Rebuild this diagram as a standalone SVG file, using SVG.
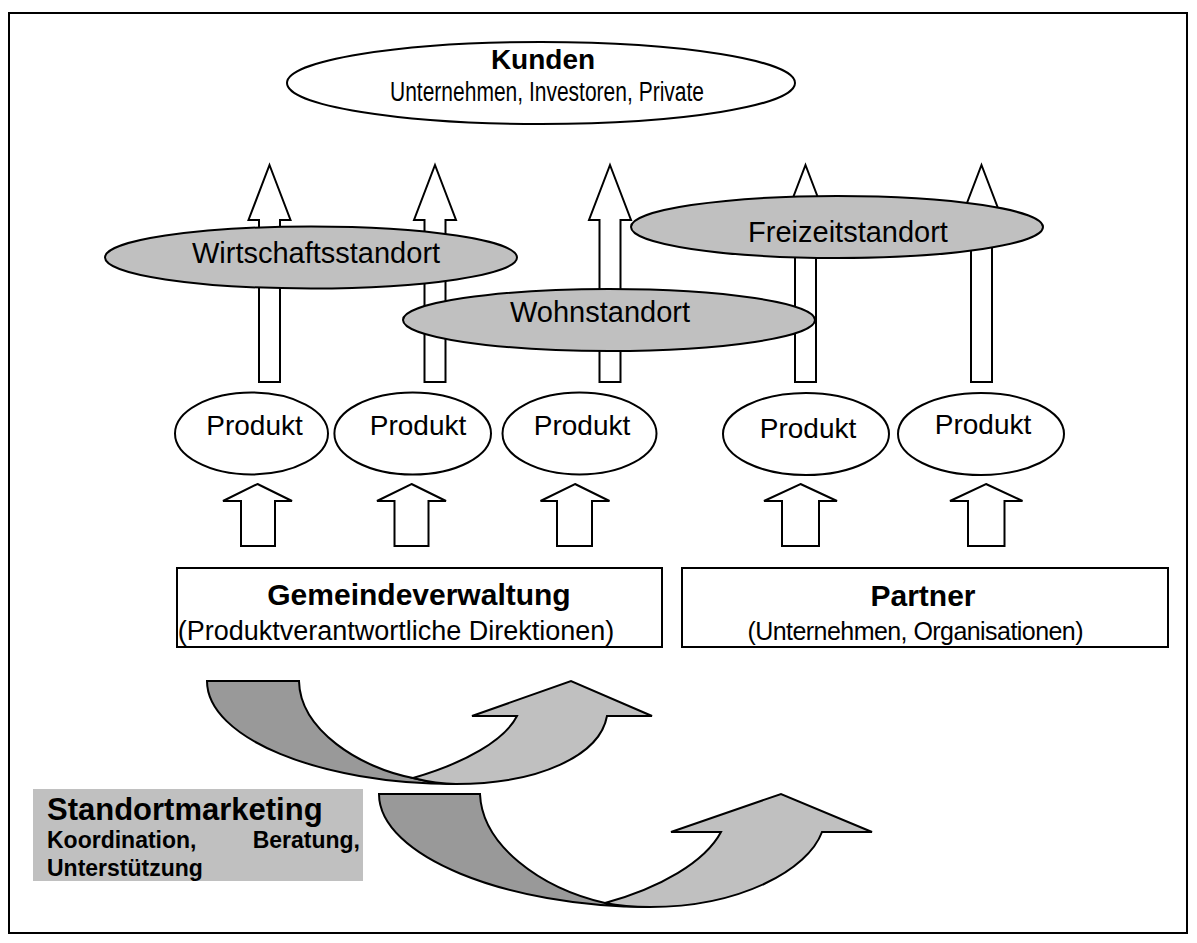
<svg xmlns="http://www.w3.org/2000/svg" width="1197" height="943" viewBox="0 0 1197 943">
<style>
.ln{stroke:#000;stroke-width:2;stroke-linejoin:miter}
.wh{fill:#fff}
.gr{fill:#c0c0c0}
.dk{fill:#999999}
.t{font-family:"Liberation Sans",Arial,sans-serif;fill:#000}
.b{font-weight:bold}
</style>
<rect x="0" y="0" width="1197" height="943" fill="#fff"/>
<rect x="9" y="13" width="1178" height="920" fill="none" stroke="#000" stroke-width="2"/>

<g id="connectors">
  <path class="ln wh" d="M269.5,165 L290.5,220 L280,220 L280,382 L259,382 L259,220 L248.5,220 Z"/>
  <path class="ln wh" d="M435,165 L456,220 L445.5,220 L445.5,382 L424.5,382 L424.5,220 L414,220 Z"/>
  <path class="ln wh" d="M610,165 L631,220 L620.5,220 L620.5,382 L599.5,382 L599.5,220 L589,220 Z"/>
  <path class="ln wh" d="M805.5,165 L826.5,220 L816,220 L816,382 L795,382 L795,220 L784.5,220 Z"/>
  <path class="ln wh" d="M981.5,165 L1002.5,220 L992,220 L992,382 L971,382 L971,220 L960.5,220 Z"/>

  <path class="ln wh" d="M257.5,484 L292,501 L275,501 L275,546 L241,546 L241,501 L223,501 Z"/>
  <path class="ln wh" d="M411.5,484 L446,501 L428.5,501 L428.5,546 L394.5,546 L394.5,501 L377,501 Z"/>
  <path class="ln wh" d="M575,484 L609.5,501 L592,501 L592,546 L557,546 L557,501 L540.5,501 Z"/>
  <path class="ln wh" d="M800.5,484 L837,501 L819,501 L819,546 L782,546 L782,501 L764,501 Z"/>
  <path class="ln wh" d="M986,484 L1022.5,501 L1004.5,501 L1004.5,546 L968,546 L968,501 L950,501 Z"/>
</g>

<g id="kunden">
  <ellipse class="ln wh" cx="541" cy="83" rx="254" ry="41"/>
  <text class="t b" x="543" y="69" font-size="28" text-anchor="middle">Kunden</text>
  <text class="t" x="547" y="101" font-size="27" text-anchor="middle" textLength="314" lengthAdjust="spacingAndGlyphs">Unternehmen, Investoren, Private</text>
</g>

<g id="wirtschaftsstandort">
  <ellipse class="ln gr" cx="311" cy="257.5" rx="206" ry="31"/>
  <text class="t" x="316" y="263" font-size="29" text-anchor="middle">Wirtschaftsstandort</text>
</g>
<g id="wohnstandort">
  <ellipse class="ln gr" cx="609" cy="320" rx="206" ry="31"/>
  <text class="t" x="600" y="322" font-size="29" text-anchor="middle">Wohnstandort</text>
</g>
<g id="freizeitstandort">
  <ellipse class="ln gr" cx="837" cy="227" rx="206" ry="31"/>
  <text class="t" x="848" y="242" font-size="29" text-anchor="middle">Freizeitstandort</text>
</g>

<g id="produkt1">
  <ellipse class="ln wh" cx="251.5" cy="433.5" rx="76.5" ry="41"/>
  <text class="t" x="254.5" y="435" font-size="28" text-anchor="middle">Produkt</text>
</g>
<g id="produkt2">
  <ellipse class="ln wh" cx="412.7" cy="433.5" rx="78.3" ry="41"/>
  <text class="t" x="418" y="435" font-size="28" text-anchor="middle">Produkt</text>
</g>
<g id="produkt3">
  <ellipse class="ln wh" cx="579.5" cy="433.5" rx="77" ry="41"/>
  <text class="t" x="582" y="435" font-size="28" text-anchor="middle">Produkt</text>
</g>
<g id="produkt4">
  <ellipse class="ln wh" cx="806" cy="434" rx="83" ry="41"/>
  <text class="t" x="808" y="438" font-size="28" text-anchor="middle">Produkt</text>
</g>
<g id="produkt5">
  <ellipse class="ln wh" cx="981" cy="434" rx="83" ry="41"/>
  <text class="t" x="983" y="434" font-size="28" text-anchor="middle">Produkt</text>
</g>

<g id="gemeindeverwaltung">
  <rect class="ln wh" x="177" y="568" width="485" height="79"/>
  <text class="t b" x="419" y="605" font-size="30" text-anchor="middle">Gemeindeverwaltung</text>
  <text class="t" x="396" y="640" font-size="27" text-anchor="middle">(Produktverantwortliche Direktionen)</text>
</g>
<g id="partner">
  <rect class="ln wh" x="682" y="568" width="486" height="79"/>
  <text class="t b" x="923" y="606" font-size="30" text-anchor="middle">Partner</text>
  <text class="t" x="915.5" y="640" font-size="25" text-anchor="middle" textLength="336">(Unternehmen, Organisationen)</text>
</g>

<g id="curved-arrows">
  <path class="ln dk" d="M207,681 L299,681 C300,730 360,768 413,778 C425,781 440,784 456,784 C319,784 207,738 207,681 Z"/>
  <path class="ln gr" d="M413,778 C465,763 505,740 517,716 L472,716 L571,681 L652,716 L607,716 C600,755 540,784 456,784 C440,784 425,781 413,778 Z"/>
  <path class="ln dk" d="M379,794 L480,794 C482,845 540,888 605,903 C620,906 635,907 650,907 C506,907 379,856 379,794 Z"/>
  <path class="ln gr" d="M605,903 C660,888 705,862 721,832 L671,832 L781,794 L872,832 L822,832 C808,870 740,907 650,907 C635,907 620,906 605,903 Z"/>
</g>

<g id="standortmarketing">
  <rect class="gr" x="33" y="789" width="330" height="92"/>
  <text class="t b" x="47" y="820" font-size="31">Standortmarketing</text>
  <text class="t b" y="848" font-size="23"><tspan x="47">Koordination,</tspan><tspan x="360" text-anchor="end">Beratung,</tspan></text>
  <text class="t b" x="47" y="876" font-size="23">Unterstützung</text>
</g>
</svg>
